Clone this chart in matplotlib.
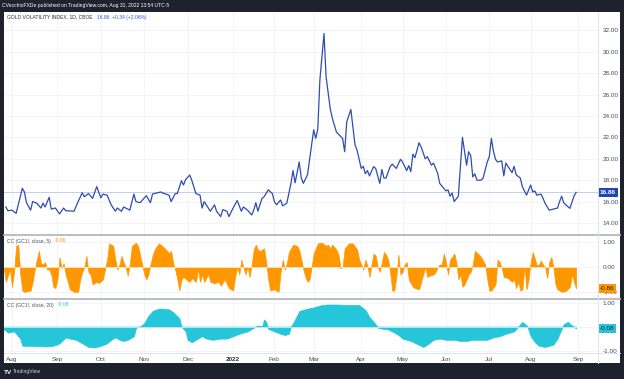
import matplotlib
matplotlib.use("Agg")
import matplotlib.pyplot as plt
from matplotlib.patches import Rectangle
from matplotlib.lines import Line2D
from matplotlib.transforms import blended_transform_factory

plt.rcParams['font.family'] = ['Liberation Sans', 'DejaVu Sans']

# ---------------- data ----------------
# trading-day index (0 = 2 Aug 2021) of each month start shown on the time axis
month_start_day = [0, 22, 43, 64, 85, 107, 127, 146, 169, 189, 210, 231, 251, 274]
month_labels = ["Aug", "Sep", "Oct", "Nov", "Dec", "2022", "Feb", "Mar", "Apr",
                "May", "Jun", "Jul", "Aug", "Sep"]

gvz_day = [-3, -2, 0, 2, 5, 6, 7, 9, 10, 12, 14, 15, 16, 18, 19, 21, 23, 25, 26, 30,
           32, 34, 35, 37, 39, 41, 43, 44, 46, 48, 50, 51, 53, 54, 57, 59, 60, 62, 65, 67,
           68, 72, 73, 76, 77, 79, 80, 82, 83, 84, 86, 87, 89, 91, 92, 93, 95, 96, 98, 99,
           101, 102, 104, 105, 107, 109, 111, 112, 114, 116, 117, 118, 119, 121, 122, 124,
           126, 127, 128, 130, 131, 133, 135, 136, 137, 139, 140, 141, 143, 146, 147, 148,
           149, 151, 152, 154, 155, 157, 160, 161, 162, 164, 166, 167, 169, 170, 171, 172,
           173, 175, 176, 178, 179, 180, 181, 183, 184, 186, 188, 189, 191, 192, 193, 194,
           195, 197, 198, 200, 201, 203, 204, 206, 207, 210, 211, 212, 213, 214, 216, 217,
           218, 220, 221, 222, 223, 224, 225, 227, 228, 230, 231, 232, 233, 234, 235, 237,
           238, 239, 240, 242, 243, 244, 246, 247, 249, 251, 252, 253, 254, 256, 257, 258,
           260, 262, 264, 265, 266, 267, 268, 270, 272, 273]
gvz_close = [15.5, 15.15, 15.2, 14.9, 17.24, 16.9, 15.9, 15.2, 16.0, 15.85, 15.4, 15.85,
             15.5, 16.4, 15.3, 15.4, 14.85, 15.4, 15.15, 15.1, 16.0, 16.83, 16.45, 16.75,
             16.3, 17.4, 16.35, 16.7, 16.6, 15.7, 15.1, 15.4, 15.1, 15.5, 15.2, 16.7, 16.0,
             15.9, 16.55, 15.9, 16.7, 16.9, 16.8, 16.6, 16.0, 16.75, 16.75, 17.95, 17.55,
             18.05, 18.48, 18.0, 16.75, 16.6, 15.4, 16.0, 15.4, 15.1, 15.7, 15.1, 14.6, 15.25,
             15.1, 14.6, 15.4, 16.1, 15.1, 15.5, 15.2, 14.75, 15.2, 15.9, 15.1, 16.3, 16.45,
             17.1, 16.75, 16.0, 15.7, 16.15, 15.6, 15.85, 17.7, 18.9, 17.75, 19.7, 18.2, 17.7,
             18.5, 22.7, 21.9, 22.8, 27.35, 31.7, 27.66, 24.7, 23.8, 22.5, 21.9, 20.66, 23.45,
             24.6, 21.3, 20.8, 19.1, 19.3, 18.6, 18.9, 18.4, 19.26, 19.1, 17.7, 19.0, 18.2,
             18.2, 19.26, 19.5, 19.1, 19.95, 19.7, 18.9, 19.35, 18.8, 20.44, 20.1, 21.5, 21.1,
             20.0, 20.2, 19.4, 19.6, 18.64, 17.7, 17.0, 17.1, 16.5, 16.8, 16.0, 16.5, 19.26,
             22.0, 19.4, 20.66, 20.3, 18.3, 18.6, 18.0, 18.0, 18.2, 19.7, 20.2, 21.9, 20.7,
             19.95, 19.7, 19.8, 18.4, 19.6, 19.3, 18.7, 19.3, 18.5, 18.2, 17.4, 16.6, 17.55,
             16.9, 17.0, 16.6, 16.7, 16.3, 15.84, 15.2, 15.3, 15.4, 16.0, 16.5, 15.9, 15.7,
             15.37, 16.52, 16.86]

cc5_day = [-4, -3, -1, 0, 1, 2, 3, 4, 5, 6, 9, 10, 11, 12, 13, 14, 15, 16, 17, 18, 19, 20,
           21, 22, 23, 24, 25, 26, 27, 28, 30, 32, 33, 34, 35, 36, 37, 38, 39, 41, 42, 44,
           45, 46, 47, 49, 50, 51, 52, 53, 54, 55, 56, 57, 58, 60, 61, 63, 64, 65, 66, 67,
           68, 69, 71, 72, 74, 76, 77, 78, 79, 80, 81, 82, 83, 85, 86, 87, 89, 90, 91, 92,
           93, 95, 96, 98, 100, 101, 103, 105, 107, 108, 109, 110, 111, 112, 113, 114, 115,
           116, 117, 118, 119, 120, 122, 123, 124, 125, 127, 128, 129, 130, 131, 132, 133,
           134, 136, 138, 139, 140, 141, 142, 143, 144, 145, 146, 148, 150, 152, 153, 154,
           155, 157, 158, 159, 160, 161, 163, 165, 167, 168, 169, 170, 171, 172, 173, 174,
           175, 176, 177, 178, 179, 180, 181, 182, 183, 184, 185, 186, 187, 188, 189, 190,
           191, 192, 194, 195, 197, 198, 199, 200, 201, 202, 204, 205, 206, 207, 208, 209,
           210, 211, 212, 213, 214, 215, 216, 217, 218, 219, 221, 222, 223, 224, 226, 227,
           229, 230, 231, 232, 234, 235, 236, 237, 238, 240, 242, 243, 244, 245, 246, 247,
           248, 249, 250, 251, 252, 253, 254, 255, 256, 257, 258, 259, 260, 261, 262, 263,
           264, 266, 268, 270, 271, 272, 273]
cc5_value = [0.0, -0.6, -0.1, -0.8, -0.2, 0.85, 0.9, -0.3, -0.95, -1.0, -0.95, -0.6, -0.1,
             0.3, 0.65, 0.15, 0.1, 0.2, -0.1, -0.1, -0.3, -0.8, -0.85, -0.5, 0.4, -0.05,
             0.15, -0.3, -0.6, -0.9, -1.0, -1.0, -0.5, -0.2, 0.0, 0.45, -0.2, -0.3, -0.7,
             -0.6, -0.65, -0.5, -0.1, 0.3, 0.95, 0.85, 0.3, -0.1, 0.1, 0.45, 0.2, 0.0, -0.35,
             0.1, 0.85, 0.98, 0.85, 0.1, -0.3, -0.5, -0.3, 0.1, 0.45, 0.7, 0.95, 0.9, 0.75,
             0.55, 0.65, 0.15, -0.1, -0.5, -0.95, -0.5, -0.4, -0.55, -0.6, -0.45, -0.6, -0.1,
             -0.6, -0.3, -0.6, -0.3, -0.6, -0.65, -0.6, -0.75, -0.5, -0.85, -0.95, -0.4, 0.0,
             -0.3, 0.3, 0.0, -0.3, 0.0, -0.4, 0.1, 0.7, 0.9, 0.7, 0.65, 0.75, 0.2, -0.5,
             -0.95, -0.9, -0.95, -1.0, -0.2, 0.3, -0.1, 0.15, 0.6, 0.9, 0.85, 0.7, 0.3, -0.1,
             -0.4, -0.6, -0.5, 0.0, 0.55, 0.95, 0.98, 0.85, 0.9, 0.75, 0.9, 0.7, 0.5, -0.05,
             0.0, 0.75, 0.95, 0.95, 0.7, 0.3, 0.1, -0.1, 0.3, 0.05, -0.4, 0.1, 0.55, 0.45,
             0.0, -0.2, 0.2, 0.6, 0.5, 0.3, -0.2, -0.95, -0.95, -0.4, 0.5, -0.3, -0.2, 0.1,
             0.2, -0.5, -0.8, -0.85, -0.9, -0.6, -0.3, 0.0, -0.4, -0.35, -0.3, -0.2, 0.0,
             0.1, 0.1, 0.55, 0.2, -0.3, 0.3, 0.4, 0.55, 0.2, -0.5, -0.3, -0.8, -0.7, -0.3,
             -0.2, 0.1, 0.65, 0.5, 0.4, 0.1, -0.5, -0.95, -0.95, -0.7, 0.3, 0.2, -0.05, -0.4,
             -0.45, -0.6, -0.5, -0.85, -0.6, -0.95, -0.9, 0.0, -0.9, -0.5, 0.2, 0.6, 0.35,
             0.05, 0.1, 0.25, 0.1, 0.0, -0.45, 0.2, 0.4, 0.0, -0.7, -0.9, -1.0, -0.97, -0.8,
             -0.3, -0.6, -0.86]

cc20_day = [-4, -2, 1, 2, 4, 5, 7, 10, 14, 17, 20, 23, 26, 28, 31, 34, 37, 40, 43, 46, 48,
            50, 52, 54, 56, 59, 60, 62, 64, 66, 68, 71, 73, 76, 78, 81, 82, 84, 85, 87, 89,
            92, 94, 97, 101, 104, 107, 110, 114, 117, 119, 121, 122, 123, 124, 127, 130, 132,
            134, 135, 137, 139, 143, 146, 149, 152, 157, 164, 168, 171, 173, 176, 177, 180,
            182, 185, 187, 189, 193, 196, 199, 201, 204, 207, 210, 214, 217, 220, 223, 227,
            230, 233, 236, 239, 243, 245, 247, 249, 250, 251, 253, 255, 258, 262, 264, 266,
            267, 269, 271, 273]
cc20_value = [-0.1, -0.25, -0.2, -0.3, -0.5, -0.8, -0.8, -0.8, -0.82, -0.83, -0.8, -0.7,
              -0.45, -0.5, -0.55, -0.7, -0.85, -0.87, -0.8, -0.7, -0.55, -0.45, -0.55, -0.6,
              -0.55, -0.4, -0.05, 0.0, 0.15, 0.45, 0.65, 0.75, 0.75, 0.72, 0.6, 0.35, 0.0,
              -0.2, -0.55, -0.65, -0.55, -0.4, -0.5, -0.55, -0.5, -0.5, -0.4, -0.3, -0.2,
              -0.05, 0.05, 0.0, 0.3, 0.2, -0.1, -0.2, -0.3, -0.35, -0.3, 0.0, 0.3, 0.65, 0.75,
              0.8, 0.88, 0.92, 0.92, 0.9, 0.9, 0.7, 0.4, 0.1, -0.05, -0.1, -0.12, -0.25, -0.35,
              -0.5, -0.6, -0.72, -0.85, -0.75, -0.55, -0.5, -0.55, -0.55, -0.6, -0.6, -0.55,
              -0.55, -0.55, -0.45, -0.4, -0.3, -0.2, 0.0, 0.2, 0.05, -0.15, -0.4, -0.65, -0.8,
              -0.85, -0.75, -0.5, -0.1, 0.1, 0.2, 0.05, -0.08]

main_ticks = [14, 16, 18, 20, 22, 24, 26, 28, 30, 32]

# ---------------- layout helpers ----------------
W, H = 624, 379
fig = plt.figure(figsize=(W / 100, H / 100), dpi=100)
fig.patch.set_facecolor('#1e222d')


def fx(px):
    return px / W


def fy(py):
    return 1 - py / H


def box(x0, y0, x1, y1):
    return [fx(x0), fy(y1), fx(x1) - fx(x0), fy(y0) - fy(y1)]


def chain(prev, text, color, gap=3.0, fs=3.6):
    """Place a text right after another text artist."""
    return fig.add_artist(matplotlib.text.Annotation(
        text, xy=(1, 0.5), xycoords=prev, xytext=(gap, 0), textcoords='offset points',
        va='center', ha='left', fontsize=fs, color=color))


# white chart area
fig.add_artist(Rectangle((fx(4), fy(363)), fx(620) - fx(4), fy(12) - fy(363),
                         transform=fig.transFigure, facecolor='white', edgecolor='none',
                         zorder=0))

XL = (-3.87, 283.6)
GRID = '#f0f3fa'
AXTXT = '#4a4d57'
FS = 4.6
HFS = 3.6

ax1 = fig.add_axes(box(4, 12, 598, 235))
ax2 = fig.add_axes(box(4, 235, 598, 299))
ax3 = fig.add_axes(box(4, 299, 598, 353))

for ax in (ax1, ax2, ax3):
    ax.set_facecolor('none')
    for s in ax.spines.values():
        s.set_visible(False)
    ax.set_xlim(*XL)
    for d in month_start_day:
        ax.axvline(d, color=GRID, lw=0.6, zorder=0)
    ax.tick_params(axis='y', left=False, labelleft=False, right=False, labelright=True,
                   length=0, pad=3.2, labelsize=FS, labelcolor=AXTXT)
    ax.tick_params(axis='x', bottom=False, labelbottom=False, length=0)

# ---- main panel ----
ax1.set_ylim(12.88, 33.71)
ax1.set_yticks(main_ticks)
ax1.set_yticklabels([f"{t:.2f}" for t in main_ticks])
for t in main_ticks:
    ax1.axhline(t, color=GRID, lw=0.6, zorder=0)
last = gvz_close[-1]
ax1.axhline(last, color='#c3cdef', lw=0.7, zorder=1)
ax1.plot(gvz_day, gvz_close, color='#2f4cb0', lw=0.9, zorder=3)
tr1 = blended_transform_factory(ax1.transAxes, ax1.transData)
ax1.text(1.003, last, f"{last:.2f}", transform=tr1, ha='left', va='center', fontsize=FS,
         color='white', fontweight='bold',
         bbox=dict(boxstyle='square,pad=0.3', fc='#1f47b0', ec='none'))
chg = gvz_close[-1] - gvz_close[-2]
t_main = fig.text(fx(7), fy(17), "GOLD VOLATILITY INDEX, 1D, CBOE", fontsize=HFS,
                  color='#2a2e39', va='center', ha='left')
chain(t_main, f"{last:.2f}  +{chg:.2f} (+{chg / gvz_close[-2] * 100:.2f}%)", '#3558c8',
      fs=HFS)

# ---- CC 5 panel ----
ax2.set_ylim(-1.29, 1.29)
ax2.set_yticks([1, 0, -1])
ax2.set_yticklabels(["1.00", "0.00", "-1.00"])
for t in (1, 0, -1):
    ax2.axhline(t, color=GRID, lw=0.6, zorder=0)
ax2.fill_between(cc5_day, cc5_value, 0, color='#ff9800', lw=0.5, zorder=2)
ax2.plot([cc5_day[0], cc5_day[-1]], [0, 0], color='#ffe0b2', lw=0.7, zorder=3)
tr2 = blended_transform_factory(ax2.transAxes, ax2.transData)
ax2.text(1.003, cc5_value[-1], f"{cc5_value[-1]:.2f}", transform=tr2, ha='left',
         va='center', fontsize=FS, color='#1e222d',
         bbox=dict(boxstyle='square,pad=0.3', fc='#ff9800', ec='none'), zorder=5)
t_cc5 = fig.text(fx(7), fy(241), "CC (GC1!, close, 5)", fontsize=HFS, color='#50535e',
                 va='center', ha='left')
chain(t_cc5, f"{cc5_value[-1]:.2f}", '#ff9800', fs=HFS)

# ---- CC 20 panel ----
ax3.set_ylim(-1.10, 1.15)
ax3.set_yticks([1, -1])
ax3.set_yticklabels(["1.00", "-1.00"])
for t in (1, 0, -1):
    ax3.axhline(t, color=GRID, lw=0.6, zorder=0)
ax3.fill_between(cc20_day, cc20_value, 0, color='#26c6da', lw=0.5, zorder=2)
ax3.plot([cc20_day[0], cc20_day[-1]], [0, 0], color='#b2ebf2', lw=0.7, zorder=3)
tr3 = blended_transform_factory(ax3.transAxes, ax3.transData)
ax3.text(1.003, cc20_value[-1], f"{cc20_value[-1]:.2f}", transform=tr3, ha='left',
         va='center', fontsize=FS, color='#1e222d',
         bbox=dict(boxstyle='square,pad=0.3', fc='#26c6da', ec='none'), zorder=5)
t_cc20 = fig.text(fx(7), fy(305), "CC (GC1!, close, 20)", fontsize=HFS, color='#50535e',
                  va='center', ha='left')
chain(t_cc20, f"{cc20_value[-1]:.2f}", '#26c6da', fs=HFS)

# time axis labels
ax3.set_xticks(month_start_day)
ax3.set_xticklabels(month_labels)
ax3.tick_params(axis='x', labelbottom=True, pad=3.0, labelsize=FS, labelcolor=AXTXT)
for lbl in ax3.get_xticklabels():
    if lbl.get_text() == "2022":
        lbl.set_fontweight('bold')
        lbl.set_color('#2a2e39')

# separators
fig.add_artist(Line2D([fx(4), fx(620)], [fy(235), fy(235)], transform=fig.transFigure,
                      color='#b4b7bf', lw=1.3))
fig.add_artist(Line2D([fx(4), fx(620)], [fy(299), fy(299)], transform=fig.transFigure,
                      color='#b4b7bf', lw=1.3))
fig.add_artist(Line2D([fx(4), fx(620)], [fy(353), fy(353)], transform=fig.transFigure,
                      color='#e0e3eb', lw=0.7))
fig.add_artist(Line2D([fx(598), fx(598)], [fy(12), fy(363)], transform=fig.transFigure,
                      color='#e0e3eb', lw=0.7))

# header / footer
fig.text(fx(2), fy(5.5), "CVecchioFXDe published on TradingView.com, Aug 31, 2022 13:54 UTC-5",
         fontsize=HFS, color='white', va='center', ha='left')
fig.text(fx(4), fy(372), "TV", fontsize=FS, color='white', va='center', ha='left',
         fontweight='bold')
fig.text(fx(13), fy(372), "TradingView", fontsize=HFS, color='#d1d4dc', va='center',
         ha='left')

fig.savefig("out.png", dpi=100, facecolor=fig.get_facecolor())
